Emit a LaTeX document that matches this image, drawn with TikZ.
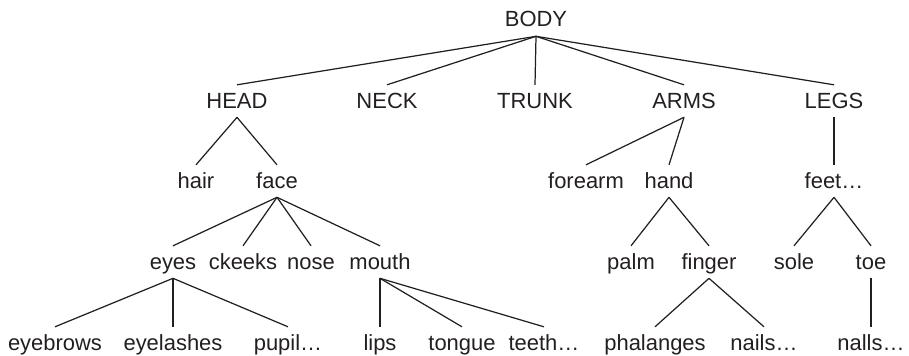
\documentclass[tikz,border=0pt]{standalone}
\usepackage{fontspec}
\setmainfont{Liberation Sans}
\usepackage{tikz}
\usetikzlibrary{positioning}
\usepackage{xcolor}

\definecolor{inkgray}{HTML}{231F20}

\begin{document}
\begin{tikzpicture}[x=0.02cm, y=-0.02cm,
    part/.style={inner xsep=0pt, inner ysep=2.1pt, text height=10.9pt, text depth=3pt,
      anchor=base, text=inkgray, font=\fontsize{12.5}{15}\selectfont},
    branch/.style={draw=inkgray, line width=0.7pt}]

  \useasboundingbox (0,0) rectangle (909,355);

  % Nodes
  \node[part] (body) at (536,27) {BODY};

  \node[part] (head)  at (237,108) {HEAD};
  \node[part] (neck)  at (387,108) {NECK};
  \node[part] (trunk) at (535,108) {TRUNK};
  \node[part] (arms)  at (684,108) {ARMS};
  \node[part] (legs)  at (834,108) {LEGS};

  \node[part] (hair)    at (196,188) {hair};
  \node[part] (face)    at (277,188) {face};
  \node[part] (forearm) at (586,188) {forearm};
  \node[part] (hand)    at (669,188) {hand};
  \node[part] (feet)    at (834,188) {feet…};

  \node[part] (eyes)   at (173,269) {eyes};
  \node[part] (cheeks) at (243,269) {ckeeks};
  \node[part] (nose)   at (311,269) {nose};
  \node[part] (mouth)  at (380,269) {mouth};
  \node[part] (palm)   at (631,269) {palm};
  \node[part] (finger) at (709,269) {finger};
  \node[part] (sole)   at (794,269) {sole};
  \node[part] (toe)    at (871,269) {toe};

  \node[part] (eyebrows)  at (55,350)  {eyebrows};
  \node[part] (eyelashes) at (173,350) {eyelashes};
  \node[part] (pupil)     at (288,350) {pupil…};
  \node[part] (lips)      at (380,350) {lips};
  \node[part] (tongue)    at (462,350) {tongue};
  \node[part] (teeth)     at (544,350) {teeth…};
  \node[part] (phalanges) at (655,350) {phalanges};
  \node[part] (nails)     at (764,350) {nails…};
  \node[part] (toenails)  at (871,350) {nalls…};

  % Lines
  \foreach \c in {head,neck,trunk,arms,legs}
    \draw[branch] (body.south) -- (\c.north);
  \foreach \c in {hair,face}
    \draw[branch] (head.south) -- (\c.north);
  \foreach \c in {forearm,hand}
    \draw[branch] (arms.south) -- (\c.north);
  \draw[branch] (legs.south) -- (feet.north);
  \foreach \c in {eyes,cheeks,nose,mouth}
    \draw[branch] (face.south) -- (\c.north);
  \foreach \c in {palm,finger}
    \draw[branch] (hand.south) -- (\c.north);
  \foreach \c in {sole,toe}
    \draw[branch] (feet.south) -- (\c.north);
  \foreach \c in {eyebrows,eyelashes,pupil}
    \draw[branch] (eyes.south) -- (\c.north);
  \foreach \c in {lips,tongue,teeth}
    \draw[branch] (mouth.south) -- (\c.north);
  \foreach \c in {phalanges,nails}
    \draw[branch] (finger.south) -- (\c.north);
  \draw[branch] (toe.south) -- (toenails.north);

\end{tikzpicture}
\end{document}
